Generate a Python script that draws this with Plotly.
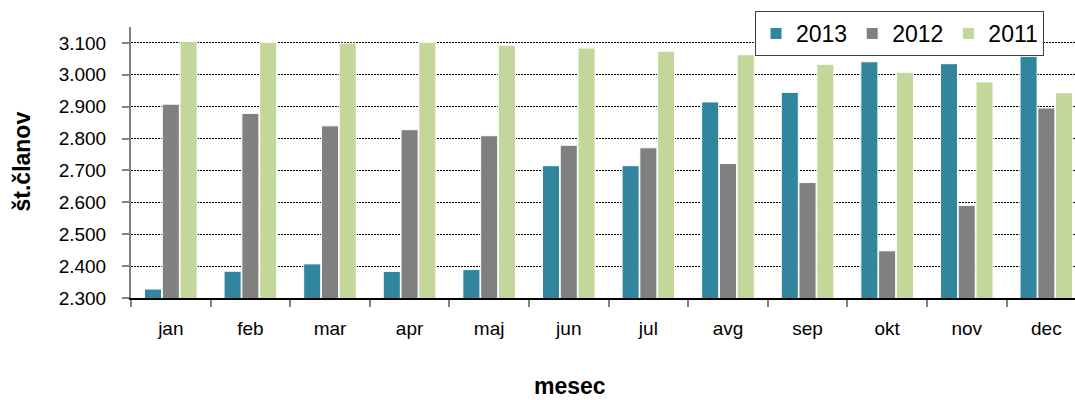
import plotly.graph_objects as go

months = ["jan", "feb", "mar", "apr", "maj", "jun", "jul", "avg", "sep", "okt", "nov", "dec"]
series_names = ["2013", "2012", "2011"]
v2013 = [2328, 2384, 2407, 2383, 2389, 2715, 2715, 2915, 2945, 3041, 3035, 3058]
v2012 = [2908, 2879, 2840, 2828, 2809, 2779, 2771, 2722, 2662, 2448, 2590, 2896]
v2011 = [3105, 3101, 3099, 3101, 3093, 3084, 3074, 3063, 3033, 3008, 2978, 2944]
colors = ["#31859C", "#808080", "#C4D79B"]

fig = go.Figure()
for name, vals, col in zip(series_names, [v2013, v2012, v2011], colors):
    fig.add_trace(go.Bar(
        x=months, y=vals, name=name,
        marker=dict(color=col, line=dict(color="white", width=1)),
    ))

W, H = 1075, 400
L, R, T, B = 131, 0, 27, 102
pw, ph = W - L - R, H - T - B

def px_x(x):
    return (x - L) / pw

def px_y(y):
    return 1 - (y - T) / ph

fig.update_layout(
    width=W, height=H,
    margin=dict(l=L, r=R, t=T, b=B),
    paper_bgcolor="white", plot_bgcolor="white",
    barmode="group", bargap=0.33, bargroupgap=0.04,
    separators=",.",
    font=dict(family="Liberation Sans, Arial, sans-serif", color="black"),
    legend=dict(
        orientation="h", xanchor="right", yanchor="top",
        x=px_x(1044), y=px_y(11),
        bgcolor="white", bordercolor="#404040", borderwidth=1,
        font=dict(size=23, color="black"),
        itemwidth=30, tracegroupgap=0,
    ),
    xaxis=dict(
        range=[-0.5, 11.36],
        showline=True, linecolor="black", linewidth=1.5,
        ticks="outside", tickson="boundaries", ticklen=7, tickcolor="#808080", tickwidth=1.5,
        tickfont=dict(size=19, color="black"),
        ticklabelstandoff=12,
        showgrid=False,
    ),
    yaxis=dict(
        range=[2300, 3150], dtick=100, tick0=2300,
        tickformat=",.0f",
        showline=True, linecolor="#808080", linewidth=2,
        ticks="outside", ticklen=7, tickcolor="#808080", tickwidth=1.5,
        tickfont=dict(size=19, color="black"),
        ticklabelstandoff=12,
        showgrid=True, gridcolor="black", gridwidth=1.2, griddash="2px,1px",
        zeroline=False,
    ),
    annotations=[
        dict(text="<b>št.članov</b>", xref="paper", yref="paper",
             x=px_x(21), y=px_y(161.5), xanchor="center", yanchor="middle",
             textangle=-90, showarrow=False, font=dict(size=23, color="black")),
        dict(text="<b>mesec</b>", xref="paper", yref="paper",
             x=px_x(570), y=px_y(386), xanchor="center", yanchor="middle",
             showarrow=False, font=dict(size=23, color="black")),
    ],
)

fig.write_html(
    "out.html",
    config={"displayModeBar": False},
    post_script="document.body.style.margin='0px';document.body.style.overflow='hidden';",
)
